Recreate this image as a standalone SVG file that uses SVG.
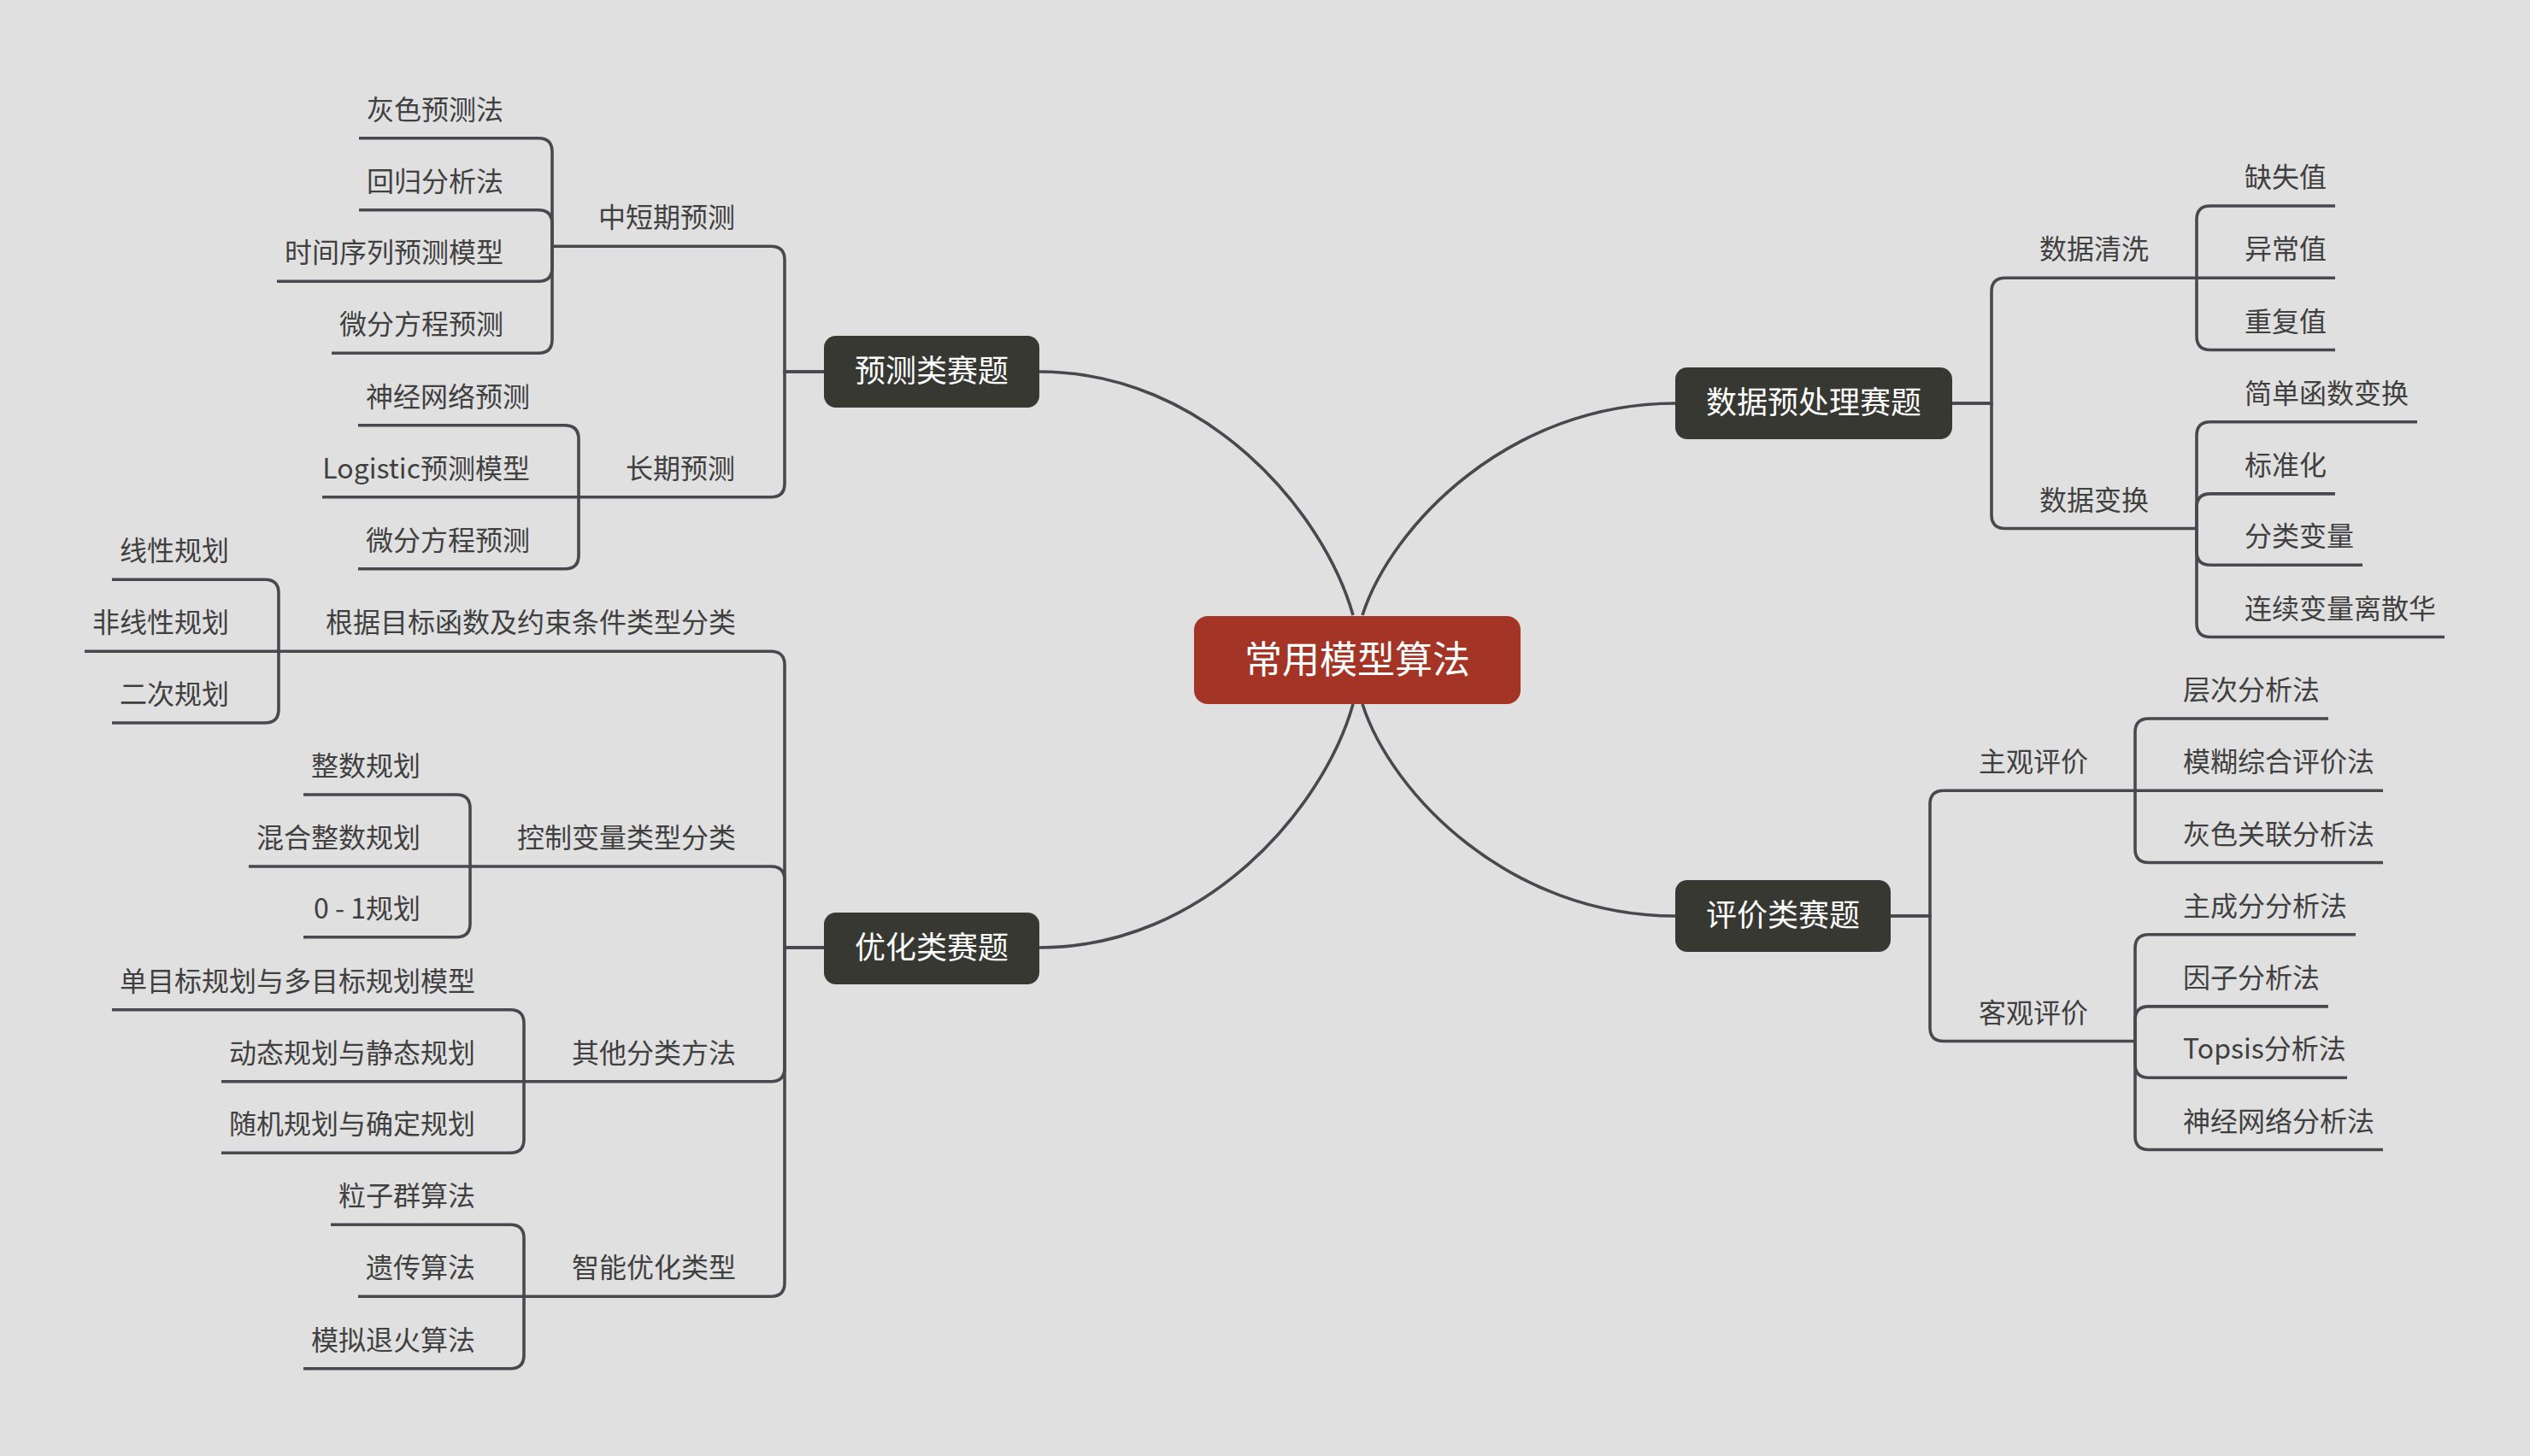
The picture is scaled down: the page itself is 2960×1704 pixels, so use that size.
<svg xmlns="http://www.w3.org/2000/svg" width="2960" height="1704" viewBox="0 0 2960 1704">
<style>
.ln{fill:none;stroke:#48484e;stroke-width:3.6;stroke-linecap:butt}
.t{font-family:"Noto Sans CJK SC","Microsoft YaHei",sans-serif;font-size:32px;fill:#404040}
.l{text-anchor:end}
.m{fill:#373832}
.mt{font-family:"Noto Sans CJK SC","Microsoft YaHei",sans-serif;font-size:36px;fill:#ffffff;text-anchor:middle}
.ct{font-family:"Noto Sans CJK SC","Microsoft YaHei",sans-serif;font-size:44px;fill:#ffffff;text-anchor:middle}
</style>
<rect width="2960" height="1704" fill="#e0e0e0"/>
<g id="connectors">
<path class="ln" d="M1216,435 C1411,435 1549,599 1583,720"/>
<path class="ln" d="M1216,1109 C1411,1109 1549,945 1583,824"/>
<path class="ln" d="M1960,472 C1766,472 1628,614.6 1594,720"/>
<path class="ln" d="M1960,1072 C1766,1072 1628,929.4 1594,824"/>
<path class="ln" d="M964,435 H918 V304.3 Q918,288.3 902,288.3 H646"/>
<path class="ln" d="M964,435 H918 V565.7 Q918,581.7 902,581.7 H677"/>
<path class="ln" d="M646,288.3 V177.7 Q646,161.7 630,161.7 H420"/>
<path class="ln" d="M646,288.3 V261.7 Q646,245.7 630,245.7 H420"/>
<path class="ln" d="M646,288.3 V313.3 Q646,329.3 630,329.3 H324"/>
<path class="ln" d="M646,288.3 V397.3 Q646,413.3 630,413.3 H388"/>
<path class="ln" d="M677,581.7 V513.7 Q677,497.7 661,497.7 H419"/>
<path class="ln" d="M677,581.7 H377"/>
<path class="ln" d="M677,581.7 V649.7 Q677,665.7 661,665.7 H419"/>
<path class="ln" d="M964,1109 H918 V778.3 Q918,762.3 902,762.3 H326"/>
<path class="ln" d="M964,1109 H918 V1030 Q918,1014 902,1014 H550"/>
<path class="ln" d="M964,1109 H918 V1249.7 Q918,1265.7 902,1265.7 H613"/>
<path class="ln" d="M964,1109 H918 V1501.3 Q918,1517.3 902,1517.3 H613"/>
<path class="ln" d="M326,762.3 V694.3 Q326,678.3 310,678.3 H131"/>
<path class="ln" d="M326,762.3 H99"/>
<path class="ln" d="M326,762.3 V830 Q326,846 310,846 H131"/>
<path class="ln" d="M550,1014 V946 Q550,930 534,930 H355"/>
<path class="ln" d="M550,1014 H291"/>
<path class="ln" d="M550,1014 V1080.7 Q550,1096.7 534,1096.7 H355"/>
<path class="ln" d="M613,1265.7 V1197.7 Q613,1181.7 597,1181.7 H131"/>
<path class="ln" d="M613,1265.7 H259"/>
<path class="ln" d="M613,1265.7 V1333.3 Q613,1349.3 597,1349.3 H259"/>
<path class="ln" d="M613,1517.3 V1449.3 Q613,1433.3 597,1433.3 H387"/>
<path class="ln" d="M613,1517.3 H419"/>
<path class="ln" d="M613,1517.3 V1585.7 Q613,1601.7 597,1601.7 H355"/>
<path class="ln" d="M2284,472 H2330 V341.3 Q2330,325.3 2346,325.3 H2570"/>
<path class="ln" d="M2284,472 H2330 V602.5 Q2330,618.5 2346,618.5 H2570"/>
<path class="ln" d="M2570,325.3 V257 Q2570,241 2586,241 H2732"/>
<path class="ln" d="M2570,325.3 H2732"/>
<path class="ln" d="M2570,325.3 V393.5 Q2570,409.5 2586,409.5 H2732"/>
<path class="ln" d="M2570,618.5 V509.7 Q2570,493.7 2586,493.7 H2828"/>
<path class="ln" d="M2570,618.5 V593.9 Q2570,577.9 2586,577.9 H2732"/>
<path class="ln" d="M2570,618.5 V645.3 Q2570,661.3 2586,661.3 H2764"/>
<path class="ln" d="M2570,618.5 V729.5 Q2570,745.5 2586,745.5 H2860"/>
<path class="ln" d="M2212,1072 H2258 V941.3 Q2258,925.3 2274,925.3 H2498"/>
<path class="ln" d="M2212,1072 H2258 V1202.5 Q2258,1218.5 2274,1218.5 H2498"/>
<path class="ln" d="M2498,925.3 V857 Q2498,841 2514,841 H2724"/>
<path class="ln" d="M2498,925.3 H2788"/>
<path class="ln" d="M2498,925.3 V993.5 Q2498,1009.5 2514,1009.5 H2788"/>
<path class="ln" d="M2498,1218.5 V1109.7 Q2498,1093.7 2514,1093.7 H2756"/>
<path class="ln" d="M2498,1218.5 V1193.9 Q2498,1177.9 2514,1177.9 H2724"/>
<path class="ln" d="M2498,1218.5 V1245.3 Q2498,1261.3 2514,1261.3 H2746"/>
<path class="ln" d="M2498,1218.5 V1329.5 Q2498,1345.5 2514,1345.5 H2788"/>
</g>
<g id="center"><rect x="1397" y="721" width="382" height="103" rx="16" fill="#a43526"/><text class="ct" x="1588" y="787.5">常用模型算法</text></g>
<g id="n-yuce"><rect class="m" x="964" y="393" width="252" height="84" rx="14"/><text class="mt" x="1090" y="447.3">预测类赛题</text></g>
<g id="n-youhua"><rect class="m" x="964" y="1068" width="252" height="84" rx="14"/><text class="mt" x="1090" y="1121.5">优化类赛题</text></g>
<g id="n-shuju"><rect class="m" x="1960" y="430" width="324" height="84" rx="14"/><text class="mt" x="2122" y="484.3">数据预处理赛题</text></g>
<g id="n-pingjia"><rect class="m" x="1960" y="1030" width="252" height="84" rx="14"/><text class="mt" x="2086" y="1084.3">评价类赛题</text></g>
<g id="t-zhongduan"><text class="t l" x="860" y="266.3">中短期预测</text></g>
<g id="t-changqi"><text class="t l" x="860" y="559.7">长期预测</text></g>
<g id="t-huise"><text class="t l" x="589" y="139.7">灰色预测法</text></g>
<g id="t-huigui"><text class="t l" x="589" y="223.7">回归分析法</text></g>
<g id="t-shijian"><text class="t l" x="589" y="307.3">时间序列预测模型</text></g>
<g id="t-weifen1"><text class="t l" x="589" y="391.3">微分方程预测</text></g>
<g id="t-shenjing1"><text class="t l" x="620" y="475.7">神经网络预测</text></g>
<g id="t-logistic"><text class="t l" x="620" y="559.7">Logistic预测模型</text></g>
<g id="t-weifen2"><text class="t l" x="620" y="643.7">微分方程预测</text></g>
<g id="t-genju"><text class="t l" x="861" y="740.3">根据目标函数及约束条件类型分类</text></g>
<g id="t-kongzhi"><text class="t l" x="861" y="992">控制变量类型分类</text></g>
<g id="t-qita"><text class="t l" x="861" y="1243.7">其他分类方法</text></g>
<g id="t-zhineng"><text class="t l" x="861" y="1495.3">智能优化类型</text></g>
<g id="t-xianxing"><text class="t l" x="268" y="656.3">线性规划</text></g>
<g id="t-feixianxing"><text class="t l" x="268" y="740.3">非线性规划</text></g>
<g id="t-erci"><text class="t l" x="268" y="824">二次规划</text></g>
<g id="t-zhengshu"><text class="t l" x="492" y="908">整数规划</text></g>
<g id="t-hunhe"><text class="t l" x="492" y="992">混合整数规划</text></g>
<g id="t-01"><text class="t l" x="492" y="1074.7">0 - 1规划</text></g>
<g id="t-danmubiao"><text class="t l" x="556" y="1159.7">单目标规划与多目标规划模型</text></g>
<g id="t-dongtai"><text class="t l" x="556" y="1243.7">动态规划与静态规划</text></g>
<g id="t-suiji"><text class="t l" x="556" y="1327.3">随机规划与确定规划</text></g>
<g id="t-lizi"><text class="t l" x="556" y="1411.3">粒子群算法</text></g>
<g id="t-yichuan"><text class="t l" x="556" y="1495.3">遗传算法</text></g>
<g id="t-moni"><text class="t l" x="556" y="1579.7">模拟退火算法</text></g>
<g id="t-qingxi"><text class="t" x="2386" y="303.3">数据清洗</text></g>
<g id="t-bianhuan"><text class="t" x="2386" y="596.5">数据变换</text></g>
<g id="t-queshi"><text class="t" x="2626" y="219">缺失值</text></g>
<g id="t-yichang"><text class="t" x="2626" y="303.3">异常值</text></g>
<g id="t-chongfu"><text class="t" x="2626" y="387.5">重复值</text></g>
<g id="t-jiandan"><text class="t" x="2626" y="471.7">简单函数变换</text></g>
<g id="t-biaozhun"><text class="t" x="2626" y="555.9">标准化</text></g>
<g id="t-fenlei"><text class="t" x="2626" y="639.3">分类变量</text></g>
<g id="t-lianxu"><text class="t" x="2626" y="723.5">连续变量离散华</text></g>
<g id="t-zhuguan"><text class="t" x="2315" y="903.3">主观评价</text></g>
<g id="t-keguan"><text class="t" x="2315" y="1196.5">客观评价</text></g>
<g id="t-cengci"><text class="t" x="2554" y="819">层次分析法</text></g>
<g id="t-mohu"><text class="t" x="2554" y="903.3">模糊综合评价法</text></g>
<g id="t-huiseguanlian"><text class="t" x="2554" y="987.5">灰色关联分析法</text></g>
<g id="t-zhucheng"><text class="t" x="2554" y="1071.7">主成分分析法</text></g>
<g id="t-yinzi"><text class="t" x="2554" y="1155.9">因子分析法</text></g>
<g id="t-topsis"><text class="t" x="2554" y="1239.3">Topsis分析法</text></g>
<g id="t-shenjing2"><text class="t" x="2554" y="1323.5">神经网络分析法</text></g>
</svg>
